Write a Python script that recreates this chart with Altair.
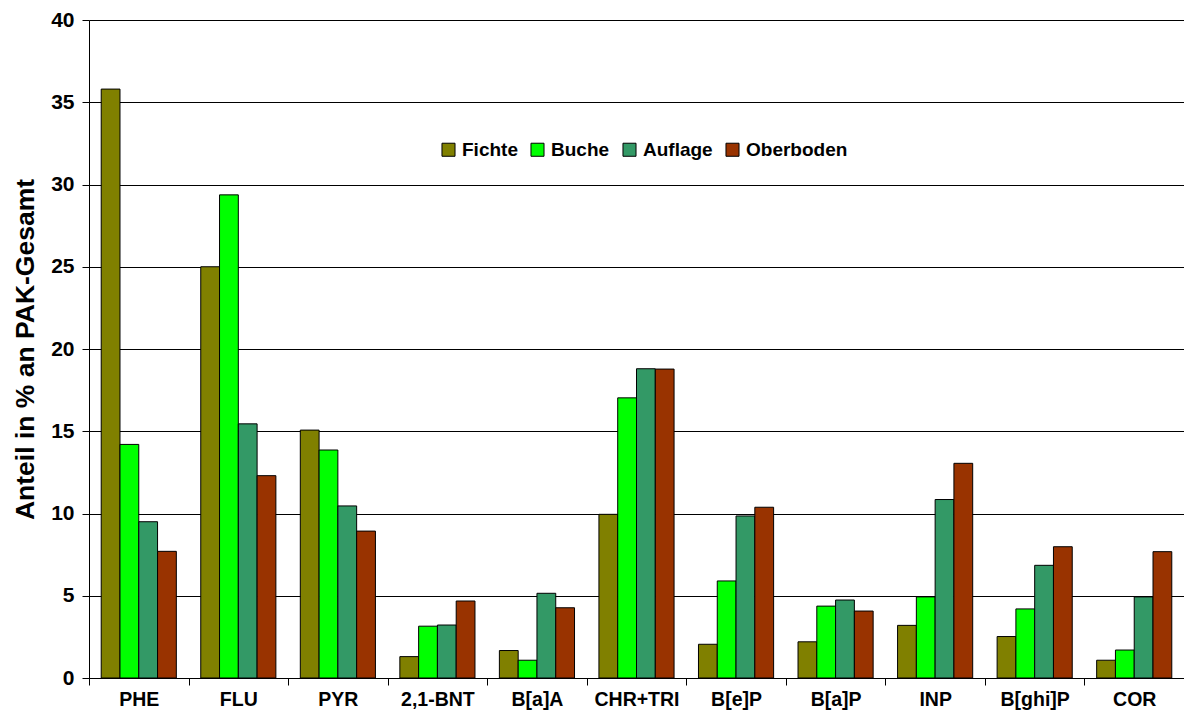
import altair as alt
import pandas as pd

categories = ["PHE", "FLU", "PYR", "2,1-BNT", "B[a]A", "CHR+TRI", "B[e]P", "B[a]P", "INP", "B[ghi]P", "COR"]
series = ["Fichte", "Buche", "Auflage", "Oberboden"]
fichte = [35.8, 25.0, 15.07, 1.3, 1.67, 9.95, 2.05, 2.2, 3.2, 2.52, 1.08]
buche = [14.2, 29.37, 13.86, 3.15, 1.08, 17.03, 5.9, 4.37, 4.93, 4.2, 1.7]
auflage = [9.5, 15.45, 10.46, 3.22, 5.15, 18.8, 9.85, 4.74, 10.85, 6.85, 4.93]
oberboden = [7.7, 12.3, 8.93, 4.68, 4.27, 18.78, 10.38, 4.07, 13.05, 7.98, 7.68]
colors = ["#808000", "#00FF00", "#339966", "#993300"]

rows = []
for s, vals in zip(series, [fichte, buche, auflage, oberboden]):
    for c, v in zip(categories, vals):
        rows.append({"Stoff": c, "Serie": s, "Wert": v})
df = pd.DataFrame(rows)

FONT = "Liberation Sans"

chart = alt.Chart(df).mark_bar(stroke="black", strokeWidth=1).encode(
    x=alt.X("Stoff:N", sort=categories, title=None,
            scale=alt.Scale(paddingInner=0, paddingOuter=0),
            axis=alt.Axis(labelAngle=0, labelFont=FONT, labelFontSize=19.5, labelFontWeight="bold",
                          labelColor="black", labelPadding=5, tickBand="extent", tickSize=7,
                          tickColor="black", domainColor="black", grid=False)),
    xOffset=alt.XOffset("Serie:N", sort=series,
                        scale=alt.Scale(paddingInner=0, paddingOuter=0.65)),
    y=alt.Y("Wert:Q", title="Anteil in % an PAK-Gesamt",
            scale=alt.Scale(domain=[0, 40], nice=False),
            axis=alt.Axis(values=[0, 5, 10, 15, 20, 25, 30, 35, 40], labelFont=FONT, labelFontSize=21,
                          labelFontWeight="bold", labelColor="black", labelPadding=8, tickSize=7,
                          tickColor="black", domainColor="black", gridColor="black", gridWidth=1,
                          titleFont=FONT, titleFontSize=26.5, titleFontWeight="bold",
                          titleColor="black", titlePadding=11)),
    color=alt.Color("Serie:N", sort=series,
                    scale=alt.Scale(domain=series, range=colors),
                    legend=alt.Legend(orient="none", legendX=350, legendY=120, direction="horizontal",
                                      title=None, symbolType="square", symbolSize=170,
                                      symbolStrokeColor="black", symbolStrokeWidth=1,
                                      symbolOpacity=1, labelFont=FONT, labelFontSize=19,
                                      labelFontWeight="bold", labelColor="black", labelOffset=4,
                                      columnPadding=10)),
).properties(
    width=1095, height=658,
    autosize=alt.AutoSizeParams(type="none"),
    padding={"left": 81, "top": 12, "right": 0, "bottom": 38},
).configure_view(stroke=None).configure_axis(domainWidth=1, tickWidth=1)

chart.save("out.html", embed_options={"renderer": "svg", "actions": False})
